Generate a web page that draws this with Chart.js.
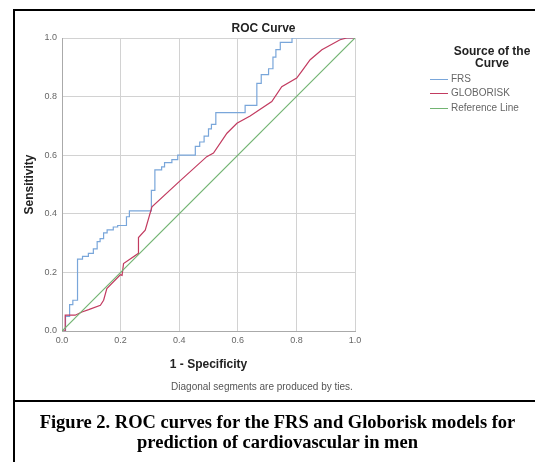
<!DOCTYPE html>
<html>
<head>
<meta charset="utf-8">
<script src="https://cdn.jsdelivr.net/npm/chart.js@4.4.1/dist/chart.umd.min.js"></script>
<style>
  body { margin: 0; background: #fff; width: 535px; height: 462px; overflow: hidden; position: relative; font-family: Arial, "Liberation Sans", sans-serif; }
  .abs { position: absolute; white-space: nowrap; }
  #frame-top { left: 13px; top: 9px; width: 530px; height: 2px; background: #000; }
  #frame-left { left: 13px; top: 9px; width: 2px; height: 460px; background: #000; }
  #frame-mid { left: 13px; top: 400px; width: 530px; height: 2px; background: #000; }
  #title { left: 0; width: 527px; top: 21px; line-height: 14px; font-size: 12px; font-weight: bold; color: #222; text-align: center; }
  #legend-title { left: 452px; width: 80px; top: 45px; line-height: 12px; font-size: 12px; font-weight: bold; color: #222; text-align: center; }
  .leg-line { position: absolute; left: 430px; width: 18px; height: 1px; }
  .leg-text { position: absolute; left: 451px; font-size: 10px; line-height: 12px; color: #666; white-space: nowrap; }
  #note { left: 0; width: 524px; top: 381px; line-height: 12px; font-size: 10px; color: #555; text-align: center; }
  #caption { left: 20px; width: 515px; top: 412px; line-height: 20px; font-size: 18.5px; font-weight: bold; color: #000; text-align: center; font-family: "Times New Roman", "Liberation Serif", serif; }
  canvas { position: absolute; left: 0; top: 0; }
</style>
</head>
<body>
<canvas id="rocChart" width="535" height="380"></canvas>
<div class="abs" id="frame-top"></div>
<div class="abs" id="frame-left"></div>
<div class="abs" id="frame-mid"></div>
<div class="abs" id="title">ROC Curve</div>
<div class="abs" id="legend-title">Source of the<br>Curve</div>
<div id="legend"></div>
<div class="abs" id="note">Diagonal segments are produced by ties.</div>
<div class="abs" id="caption">Figure 2. ROC curves for the FRS and Globorisk models for<br>prediction of cardiovascular in men</div>
<script>
// ROC coordinates
var seriesNames = ['FRS', 'GLOBORISK', 'Reference Line'];
var seriesColors = ['#79a6da', '#c23b60', '#72b472'];

var frsX = [0, 0.012, 0.012, 0.026, 0.026, 0.037, 0.037, 0.053, 0.053, 0.07, 0.07, 0.09, 0.09, 0.107,
  0.107, 0.12, 0.12, 0.13, 0.13, 0.142, 0.142, 0.154, 0.154, 0.175, 0.175, 0.19, 0.19, 0.22, 0.22, 0.23,
  0.23, 0.305, 0.305, 0.317, 0.317, 0.34, 0.34, 0.35, 0.35, 0.375, 0.375, 0.395, 0.395, 0.455, 0.455,
  0.47, 0.47, 0.485, 0.485, 0.5, 0.5, 0.51, 0.51, 0.525, 0.525, 0.625, 0.625, 0.665, 0.665, 0.68, 0.68,
  0.705, 0.705, 0.72, 0.72, 0.73, 0.73, 0.745, 0.745, 0.785, 0.785, 1];
var frsY = [0, 0, 0.05, 0.05, 0.09, 0.09, 0.105, 0.105, 0.245, 0.245, 0.255, 0.255, 0.265, 0.265,
  0.28, 0.28, 0.305, 0.305, 0.315, 0.315, 0.335, 0.335, 0.345, 0.345, 0.355, 0.355, 0.36, 0.36, 0.39, 0.39,
  0.41, 0.41, 0.48, 0.48, 0.55, 0.55, 0.56, 0.56, 0.575, 0.575, 0.585, 0.585, 0.6, 0.6, 0.63,
  0.63, 0.645, 0.645, 0.665, 0.665, 0.69, 0.69, 0.705, 0.705, 0.745, 0.745, 0.77, 0.77, 0.845, 0.845, 0.875,
  0.875, 0.895, 0.895, 0.935, 0.935, 0.96, 0.96, 0.985, 0.985, 1, 1];

var gloX = [0, 0.011, 0.011, 0.045, 0.068, 0.091, 0.131, 0.142, 0.153, 0.199, 0.205, 0.21, 0.261, 0.261,
  0.284, 0.307, 0.4, 0.494, 0.517, 0.563, 0.597, 0.642, 0.716, 0.75, 0.801, 0.818, 0.847, 0.887, 0.949, 0.972, 1];
var gloY = [0, 0, 0.054, 0.054, 0.065, 0.073, 0.088, 0.105, 0.145, 0.192, 0.19, 0.23, 0.265, 0.319,
  0.344, 0.424, 0.51, 0.595, 0.607, 0.675, 0.709, 0.734, 0.783, 0.834, 0.863, 0.886, 0.926, 0.96, 0.994, 1, 1];

var refX = [0, 1];
var refY = [0, 1];

var axisTicks = [0, 0.2, 0.4, 0.6, 0.8, 1.0];

function toPoints(xs, ys) {
  return xs.map(function(x, i) { return { x: x, y: ys[i] }; });
}

var lineSets = [[frsX, frsY], [gloX, gloY], [refX, refY]];

var datasets = lineSets.map(function(s, i) {
  return {
    label: seriesNames[i],
    data: toPoints(s[0], s[1]),
    showLine: true,
    borderColor: seriesColors[i],
    backgroundColor: seriesColors[i],
    borderWidth: 1.2,
    pointRadius: 0,
    tension: 0,
    order: 2 - i
  };
});

// html legend
var legend = document.getElementById('legend');
var legendTops = [79, 93, 107.5];
seriesNames.forEach(function(name, i) {
  var ln = document.createElement('div');
  ln.className = 'leg-line';
  ln.style.top = legendTops[i] + 'px';
  ln.style.background = seriesColors[i];
  legend.appendChild(ln);
  var tx = document.createElement('div');
  tx.className = 'leg-text';
  tx.style.top = (legendTops[i] - 6) + 'px';
  tx.textContent = name;
  legend.appendChild(tx);
});

var tickFont = { family: 'Arial, "Liberation Sans", sans-serif', size: 9 };
var titleFont = { family: 'Arial, "Liberation Sans", sans-serif', size: 12, weight: 'bold' };

var ctx = document.getElementById('rocChart');
var rocChart = new Chart(ctx, {
  type: 'scatter',
  data: { datasets: datasets },
  options: {
    responsive: false,
    animation: false,
    layout: { padding: { left: 0, top: 38, right: 180, bottom: 0 } },
    plugins: {
      legend: { display: false },
      title: { display: false },
      tooltip: { enabled: false }
    },
    scales: {
      x: {
        type: 'linear',
        min: 0,
        max: 1,
        afterBuildTicks: function(scale) {
          scale.ticks = axisTicks.map(function(v) { return { value: v }; });
        },
        afterFit: function(scale) { scale.height = 49; },
        ticks: {
          padding: 4,
          color: '#666',
          font: tickFont,
          callback: function(value) { return value.toFixed(1); }
        },
        grid: { color: '#d2d2d2', lineWidth: 1, drawTicks: false },
        border: { color: '#aaaaaa', width: 1 },
        title: {
          display: true,
          text: '1 - Specificity',
          color: '#222',
          font: titleFont,
          padding: { top: 0, bottom: 8 }
        }
      },
      y: {
        type: 'linear',
        min: 0,
        max: 1,
        afterBuildTicks: function(scale) {
          scale.ticks = axisTicks.map(function(v) { return { value: v }; });
        },
        afterFit: function(scale) { scale.width = 62; },
        ticks: {
          padding: 5,
          color: '#666',
          font: tickFont,
          callback: function(value) { return value.toFixed(1); }
        },
        grid: { color: '#d2d2d2', lineWidth: 1, drawTicks: false },
        border: { color: '#aaaaaa', width: 1 },
        title: {
          display: true,
          text: 'Sensitivity',
          color: '#222',
          font: titleFont,
          padding: { top: 22, bottom: 0 }
        }
      }
    }
  }
});
</script>
</body>
</html>
